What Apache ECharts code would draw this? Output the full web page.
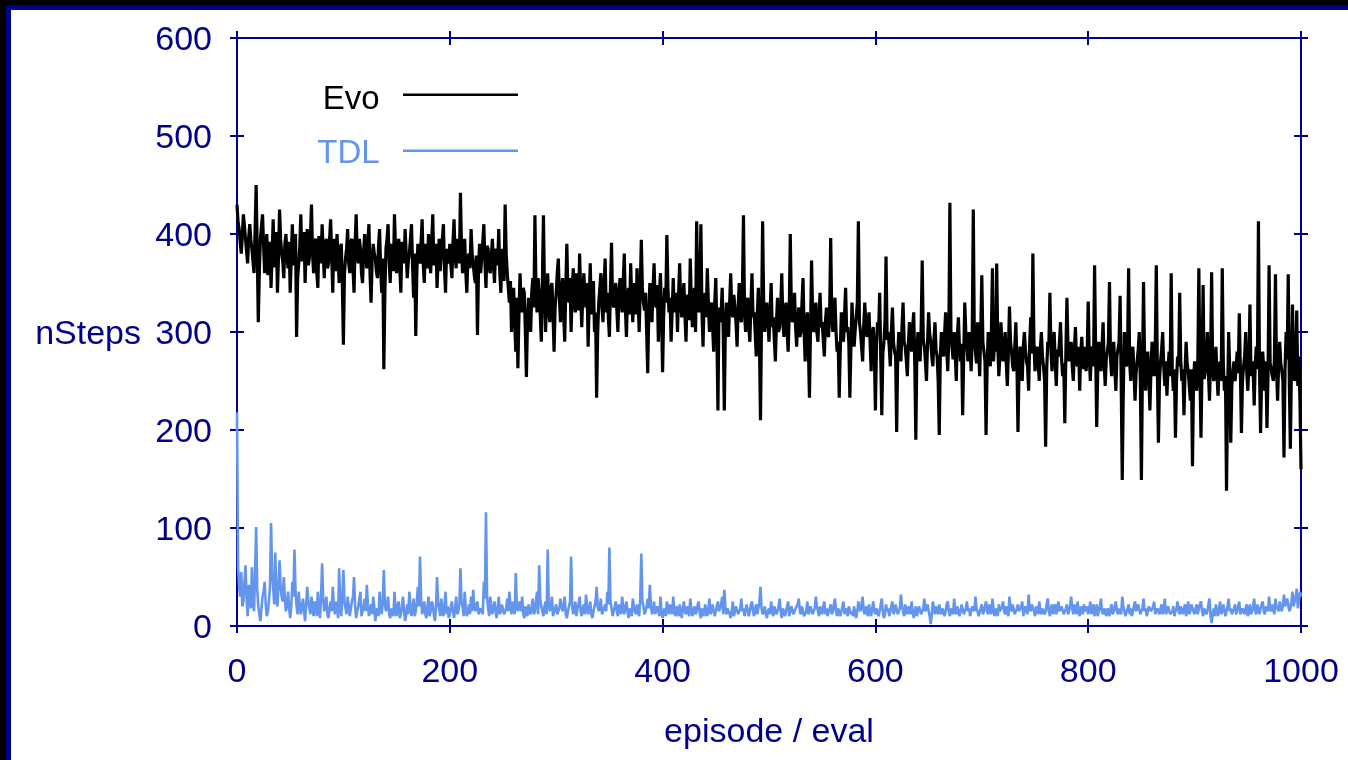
<!DOCTYPE html>
<html><head><meta charset="utf-8">
<script src="https://cdn.jsdelivr.net/npm/echarts@6/dist/echarts.min.js"></script>
<style>html,body{margin:0;padding:0;background:#fff}#c{width:1348px;height:760px}</style>
</head><body><div id="c"></div>
<script>
// episode spacing between recorded points
const STEP = 1;
// Evo nSteps, episodes 0..1000 (one row = 20 episodes)
const evo = [
430,412,405,392,380,398,420,408,395,382,370,396,410,394,385,372,360,405,450,385,
310,362,395,408,420,388,360,384,400,358,375,392,345,380,415,366,390,402,340,376,
425,395,380,372,355,390,400,378,365,392,340,375,410,368,385,400,295,355,370,388,
420,372,390,402,350,385,405,368,375,398,430,380,360,392,395,360,345,398,385,370,
410,382,355,390,395,365,370,395,415,378,340,395,380,362,400,375,350,385,390,350,
287,360,375,385,405,370,360,392,395,365,340,390,420,378,370,395,385,360,350,382,
400,378,365,392,410,360,330,372,390,380,375,362,355,388,405,365,340,375,262,340,
385,395,410,372,350,390,375,362,420,385,360,378,395,366,340,392,385,370,405,380,
355,372,380,395,410,368,335,380,296,360,390,375,370,392,415,370,350,390,385,365,
400,378,360,392,420,368,375,390,345,372,395,362,380,395,410,365,340,385,370,375,
390,368,355,392,415,378,365,395,385,370,442,385,360,378,395,362,340,375,380,365,
405,380,370,358,350,378,297,365,390,360,375,392,410,372,345,388,385,365,360,375,
395,370,350,385,380,368,405,360,340,385,375,352,430,380,360,345,330,352,300,330,
345,310,280,335,263,318,360,330,320,345,340,300,254,310,335,318,300,340,355,325,
419,345,320,355,340,318,290,350,419,340,300,330,360,322,310,345,350,318,280,325,
340,360,375,335,310,342,355,318,290,345,390,340,330,355,300,340,365,330,320,360,
345,322,380,340,305,338,360,335,325,350,285,330,370,318,340,352,300,320,233,300,
330,345,360,325,310,348,375,320,340,315,295,345,391,330,325,340,350,322,300,340,
355,330,320,352,380,325,295,335,345,318,370,332,310,350,335,318,365,330,300,345,
394,345,330,322,340,300,258,318,350,335,310,345,370,330,325,348,290,340,360,315,
259,318,345,330,399,345,320,335,290,322,355,320,330,340,300,338,370,330,315,335,
350,318,290,338,335,312,375,330,305,335,345,300,413,340,320,350,410,320,285,330,
340,315,365,330,300,325,330,305,280,330,355,300,220,325,310,320,345,300,220,305,
330,312,295,330,360,322,315,338,340,310,285,325,350,318,310,340,419,320,300,328,
335,305,290,328,360,315,320,300,275,318,345,290,210,312,413,330,300,322,330,310,
290,320,350,305,315,292,270,310,335,300,305,325,360,312,295,320,330,300,280,318,
400,325,310,318,340,305,285,312,325,295,300,330,355,300,270,310,320,285,233,300,
373,318,300,312,330,300,290,318,340,305,310,292,275,310,325,298,295,322,396,315,
300,318,335,300,280,290,233,282,320,302,290,318,345,300,305,290,233,285,330,305,
285,302,315,330,413,310,300,285,270,305,330,310,295,302,320,290,260,298,305,280,
220,285,310,300,340,275,215,278,290,310,377,292,300,285,265,300,325,290,280,275,
198,278,300,290,270,305,330,290,285,272,255,288,310,295,280,305,320,268,190,282,
300,285,270,305,373,292,285,270,250,288,320,298,290,275,265,292,310,282,275,250,
195,275,300,285,275,298,320,282,260,295,432,300,285,272,300,280,250,295,315,285,
270,288,215,275,330,298,285,270,300,282,260,295,425,290,280,268,310,282,255,300,
358,290,280,270,195,265,300,282,265,298,365,270,290,280,370,288,255,275,310,285,
270,285,300,268,245,280,326,290,280,265,260,285,310,270,198,262,285,268,250,285,
300,282,270,265,240,288,315,278,380,290,260,275,285,268,250,282,300,275,265,250,
183,262,290,285,340,280,260,290,300,270,245,282,275,290,310,272,255,268,207,278,
335,285,270,280,290,265,250,282,305,270,265,285,240,278,295,262,275,285,260,275,
331,275,250,282,285,265,368,280,203,262,290,270,260,285,310,268,245,272,280,290,
351,272,255,280,290,262,240,275,275,290,337,250,149,240,300,270,265,285,365,268,
250,272,285,260,230,258,270,282,300,250,149,262,351,270,240,265,280,255,220,262,
290,268,255,282,368,260,187,250,270,282,300,265,245,270,235,262,280,255,360,262,
240,262,192,250,275,265,340,270,250,262,215,258,290,268,260,245,230,262,163,250,
270,255,240,268,365,260,192,265,348,252,260,275,300,258,230,272,361,262,250,255,
285,258,235,262,270,250,365,268,240,255,138,232,300,262,187,245,260,270,250,262,
280,258,319,262,197,250,265,275,300,260,240,265,328,255,270,262,225,268,285,262,
413,262,197,252,280,262,240,270,202,255,368,268,270,255,250,272,359,262,230,268,
290,268,260,250,172,262,300,272,359,250,181,262,328,270,250,262,322,245,275,230,
160
];
// TDL nSteps, episodes 0..1000 (one row = 20 episodes)
const tdl = [
218,60,40,30,55,20,25,45,62,28,10,42,35,18,60,25,15,55,101,38,
20,12,5,18,30,35,45,22,10,15,25,40,105,55,40,22,75,30,20,42,
67,40,30,25,50,28,15,22,35,18,8,20,45,30,78,35,20,12,35,20,
12,20,28,15,5,22,40,25,18,12,30,20,10,25,22,10,35,18,8,30,
64,28,15,22,30,12,8,18,25,15,40,22,12,25,20,8,59,22,10,30,
57,25,18,12,30,20,10,18,25,30,50,20,8,15,20,28,35,10,12,20,
28,15,42,22,10,18,22,12,30,20,5,15,18,10,35,20,12,25,57,22,
15,22,30,12,8,18,20,10,35,15,10,22,25,8,12,20,30,15,5,12,
22,12,35,20,10,18,28,10,15,25,40,20,71,28,12,18,25,12,8,20,
30,10,15,25,22,12,5,18,50,25,18,10,28,15,10,22,35,12,20,8,
12,20,25,15,8,18,30,12,15,22,59,25,20,10,35,18,10,15,22,12,
30,15,37,20,15,22,25,12,10,18,20,12,45,28,116,30,18,10,30,18,
12,20,25,15,8,18,30,12,15,22,20,12,10,18,28,15,35,20,12,25,
20,12,54,20,15,22,25,15,30,12,8,20,18,10,22,15,12,20,28,12,
15,25,35,12,62,28,20,15,10,20,25,12,78,22,15,20,30,10,12,18,
22,12,10,18,28,20,15,22,30,12,8,15,20,25,71,20,12,18,25,10,
18,22,30,15,10,18,22,12,32,20,12,18,25,12,8,15,20,25,40,20,
15,20,28,12,10,18,22,15,35,22,80,25,18,10,12,20,25,15,10,22,
20,12,30,18,12,20,25,15,8,18,18,10,28,20,15,12,22,15,10,28,
74,25,20,12,15,20,28,18,42,22,12,18,25,12,10,20,20,10,30,15,
8,15,18,10,25,18,12,22,20,12,30,15,10,20,15,10,22,15,8,18,
25,15,12,20,18,10,28,18,10,15,20,12,15,22,25,12,8,18,18,10,
22,15,10,18,28,12,15,22,20,10,12,20,25,15,18,22,30,12,37,20,
12,18,20,12,8,15,25,10,15,20,22,12,10,18,28,15,18,10,12,22,
20,10,15,22,25,15,10,18,22,12,18,25,40,18,12,15,20,12,8,15,
18,12,25,15,10,20,22,12,15,20,28,15,8,18,20,10,12,20,25,10,
15,20,22,12,10,18,18,22,28,15,12,20,20,10,8,15,25,12,15,20,
22,12,10,18,30,20,15,10,20,15,12,20,25,12,18,10,8,18,22,12,
15,22,28,15,10,18,20,10,12,20,25,12,18,15,10,20,22,12,15,10,
20,12,8,15,25,18,15,22,30,15,12,20,18,10,22,15,10,18,25,15,
12,18,20,10,15,22,28,15,8,12,22,15,18,10,12,20,25,12,15,22,
20,12,10,18,32,20,15,10,22,15,12,20,18,12,25,15,8,15,20,10,
15,20,22,12,10,18,28,15,15,22,20,10,2,12,25,18,12,20,18,12,
22,15,12,18,20,10,15,22,25,15,10,18,18,12,28,15,12,20,20,10,
15,22,22,12,10,18,25,15,18,10,12,20,20,15,30,18,15,10,10,18,
22,12,15,20,25,15,12,22,20,12,28,18,10,15,18,10,22,15,15,20,
25,15,12,20,18,10,30,18,15,22,20,12,10,18,22,15,15,20,25,10,
12,20,20,12,32,18,15,22,22,15,10,20,18,12,25,15,12,18,20,12,
15,22,28,15,10,18,22,12,18,22,12,18,25,15,15,20,20,12,10,18,
22,12,15,20,30,18,12,22,20,12,25,15,10,20,18,12,22,15,15,20,
12,18,25,12,18,22,10,15,22,10,15,20,28,15,12,18,20,10,18,15,
10,18,22,12,15,20,25,15,12,18,20,12,30,20,15,10,10,18,22,12,
18,10,12,20,25,15,15,22,20,12,10,18,28,15,18,10,12,20,22,15,
15,20,25,12,10,18,20,12,18,22,12,18,28,12,15,20,22,12,10,15,
20,10,15,18,25,15,12,20,22,12,18,22,10,15,25,12,15,22,20,15,
12,18,22,12,18,22,25,15,10,18,20,12,15,22,28,10,3,12,18,10,
22,15,10,18,25,12,15,22,20,10,12,20,28,15,18,12,10,18,22,12,
15,20,25,12,12,18,20,12,18,22,10,15,22,12,15,20,28,15,12,22,
20,12,18,22,25,15,12,20,22,15,30,18,15,22,20,12,28,20,18,15,
25,18,15,22,32,20,20,28,28,15,18,25,35,20,22,30,38,18,25,35,
30
];
const seriesNames = ['Evo', 'TDL'];
const xTicks = [0, 200, 400, 600, 800, 1000];
const yTicks = [0, 100, 200, 300, 400, 500, 600];

const NAVY = '#00008b';
const BLUE = '#6495ed';
const FONT = 'Liberation Sans';
const FS = 34;

const pairs = arr => arr.map((v, i) => [i * STEP, v]);

const xMin = xTicks[0], xMax = xTicks[xTicks.length - 1], xInt = xTicks[1] - xTicks[0];
const yMin = yTicks[0], yMax = yTicks[yTicks.length - 1], yInt = yTicks[1] - yTicks[0];

const gridBox = { left: 237, right: 47, top: 38, bottom: 134 };

function xa(gridIndex, position, inside, opts) {
  return Object.assign({
    type: 'value', gridIndex, position, min: xMin, max: xMax, interval: xInt,
    axisLine: { show: !inside, onZero: false, lineStyle: { color: NAVY, width: 2 } },
    axisTick: { show: true, inside, length: 7, lineStyle: { color: NAVY, width: 2 } },
    axisLabel: { show: false },
    splitLine: { show: false }
  }, opts || {});
}
function ya(gridIndex, position, inside, opts) {
  return Object.assign({
    type: 'value', gridIndex, position, min: yMin, max: yMax, interval: yInt,
    axisLine: { show: !inside, onZero: false, lineStyle: { color: NAVY, width: 2 } },
    axisTick: { show: true, inside, length: 7, lineStyle: { color: NAVY, width: 2 } },
    axisLabel: { show: false },
    splitLine: { show: false }
  }, opts || {});
}

const labelStyle = { show: true, color: NAVY, fontSize: FS, fontFamily: FONT, formatter: v => String(v) };

// legend icons: a thin line at the top of a taller box, so the text sits a little below the line
const iconEvo = 'path://M0,0L115,0L115,2.4L0,2.4Z M0,11.99L115,11.99L115,12L0,12Z';
const iconTdl = 'path://M0,0L115,0L115,2.4L0,2.4Z M0,7.99L115,7.99L115,8L0,8Z';

const chart = echarts.init(document.getElementById('c'), null, { renderer: 'canvas' });
chart.setOption({
  animation: false,
  backgroundColor: '#fff',
  grid: [Object.assign({}, gridBox), Object.assign({}, gridBox)],
  xAxis: [
    xa(0, 'bottom', false, {
      axisLabel: Object.assign({ margin: 30 }, labelStyle),
      name: 'episode / eval', nameLocation: 'middle', nameGap: 90,
      nameTextStyle: { color: NAVY, fontSize: FS, fontFamily: FONT }
    }),
    xa(0, 'top', false),
    xa(1, 'bottom', true),
    xa(1, 'top', true)
  ],
  yAxis: [
    ya(0, 'left', false, {
      axisLabel: Object.assign({ margin: 25, verticalAlign: 'top', lineHeight: 6 }, labelStyle),
      name: 'nSteps', nameLocation: 'middle', nameGap: 96, nameRotate: 0,
      nameTextStyle: { color: NAVY, fontSize: FS, fontFamily: FONT, verticalAlign: 'top', lineHeight: 6 }
    }),
    ya(0, 'right', false),
    ya(1, 'left', true),
    ya(1, 'right', true)
  ],
  legend: [
    {
      data: [{ name: seriesNames[0], icon: iconEvo, itemStyle: { color: '#000' }, textStyle: { color: '#000' } }],
      right: 825, top: 78, itemWidth: 115, itemHeight: 12, align: 'right', selectedMode: false,
      formatter: n => n + '  ',
      textStyle: { fontSize: FS - 1, fontFamily: FONT }
    },
    {
      data: [{ name: seriesNames[1], icon: iconTdl, itemStyle: { color: BLUE }, textStyle: { color: BLUE } }],
      right: 825, top: 132, itemWidth: 115, itemHeight: 8, align: 'right', selectedMode: false,
      formatter: n => n + '  ',
      textStyle: { fontSize: FS - 1, fontFamily: FONT }
    }
  ],
  series: [
    {
      name: seriesNames[0], type: 'line', xAxisIndex: 0, yAxisIndex: 0,
      data: pairs(evo), showSymbol: false, symbol: 'none', sampling: null,
      lineStyle: { color: '#000', width: 3.2 }, itemStyle: { color: '#000' }
    },
    {
      name: seriesNames[1], type: 'line', xAxisIndex: 0, yAxisIndex: 0,
      data: pairs(tdl), showSymbol: false, symbol: 'none', sampling: null,
      lineStyle: { color: BLUE, width: 2.6 }, itemStyle: { color: BLUE }
    }
  ],
  graphic: [
    { type: 'rect', shape: { x: 6, y: 5, width: 1342, height: 5 }, style: { fill: NAVY } },
    { type: 'rect', shape: { x: 6, y: 5, width: 5, height: 755 }, style: { fill: NAVY } },
    { type: 'rect', shape: { x: 0, y: 0, width: 1348, height: 5 }, style: { fill: '#000' } },
    { type: 'rect', shape: { x: 0, y: 0, width: 6, height: 760 }, style: { fill: '#000' } }
  ]
});
</script>
</body></html>
